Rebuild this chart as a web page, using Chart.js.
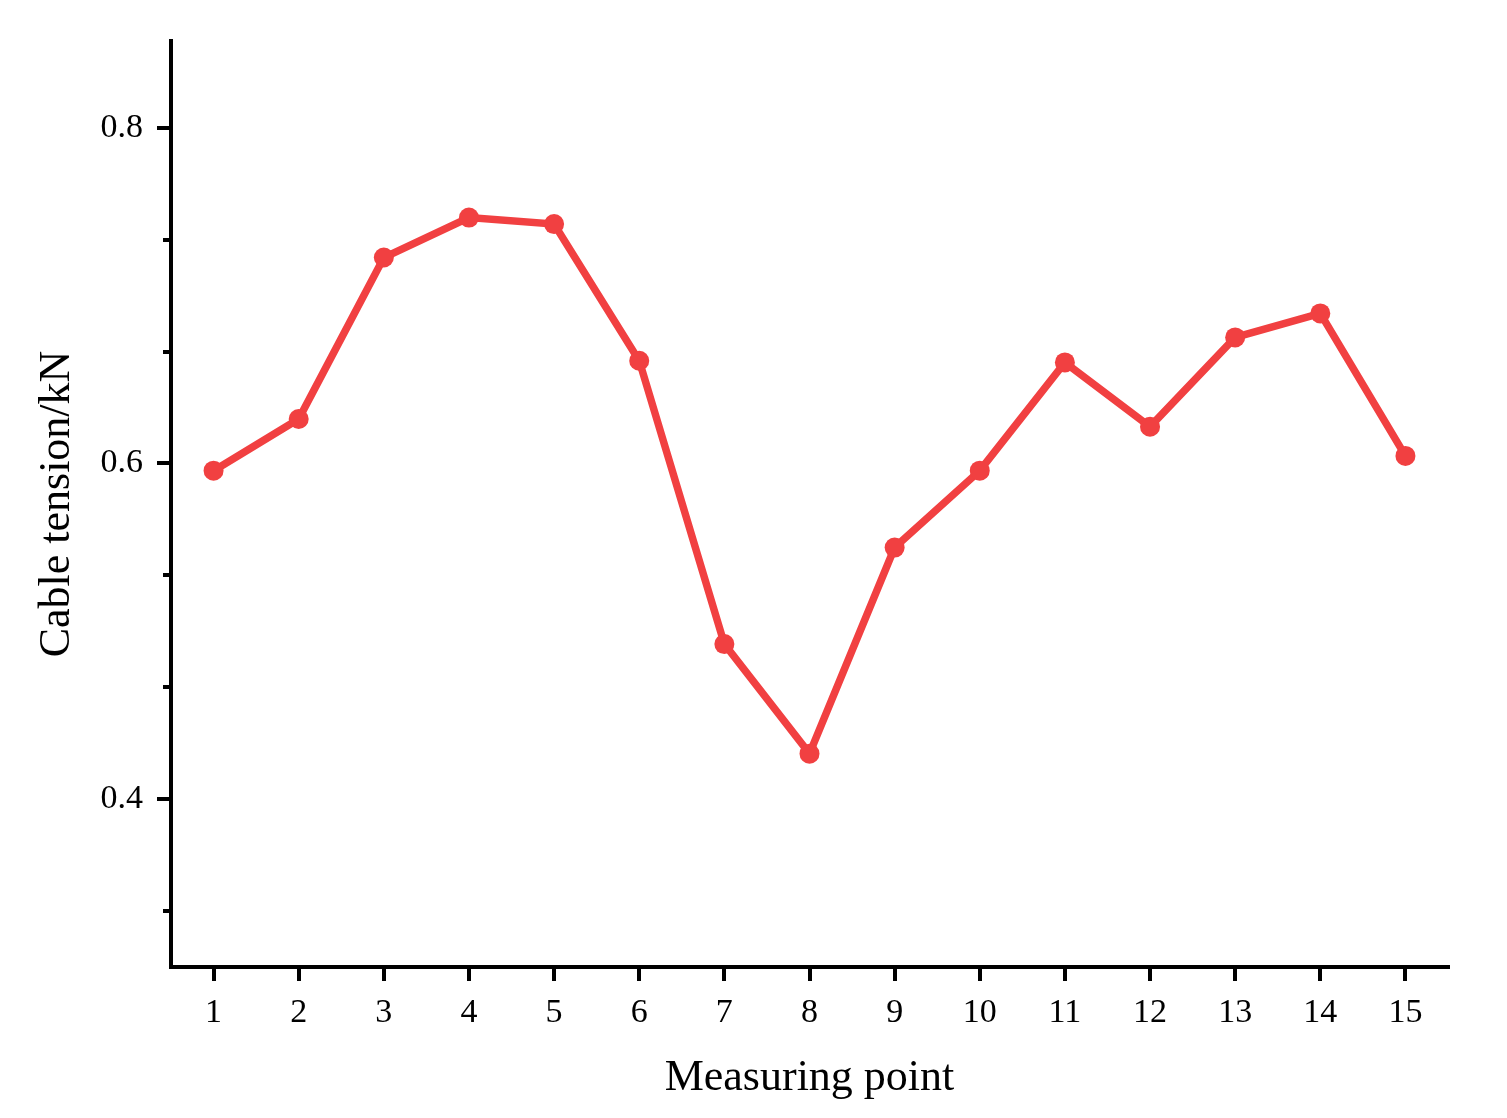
<!DOCTYPE html>
<html>
<head>
<meta charset="utf-8">
<script src="https://cdn.jsdelivr.net/npm/chart.js@4"></script>
<style>
  html, body { margin: 0; padding: 0; background: #fff; }
  #wrap { width: 1507px; height: 1118px; }
</style>
</head>
<body>
<div id="wrap"><canvas id="tensionChart" width="1507" height="1118"></canvas></div>
<script>
const points = ['1', '2', '3', '4', '5', '6', '7', '8', '9', '10', '11', '12', '13', '14', '15'];
const tension = [0.5957, 0.6265, 0.7227, 0.7465, 0.7426, 0.6612, 0.4924, 0.4271,
                 0.5499, 0.5957, 0.6602, 0.6219, 0.6751, 0.6894, 0.6045];
const yMajorTicks = [0.4, 0.6, 0.8];
const yMinorTicks = [0.3333, 0.4667, 0.5333, 0.6667, 0.7333];

const serif = '"Liberation Serif", "Times New Roman", serif';

// minor ticks on the y axis (Chart.js has no built-in minor ticks)
const minorTickPlugin = {
    id: 'minorTicks',
    afterDraw(chart) {
        const y = chart.scales.y;
        const ctx = chart.ctx;
        ctx.save();
        ctx.strokeStyle = '#000';
        ctx.lineWidth = 4;
        yMinorTicks.forEach(function (v) {
            const py = Math.round(y.getPixelForValue(v));
            ctx.beginPath();
            ctx.moveTo(y.right - 8, py);
            ctx.lineTo(y.right, py);
            ctx.stroke();
        });
        ctx.restore();
    }
};

const ctx = document.getElementById('tensionChart').getContext('2d');
new Chart(ctx, {
    type: 'line',
    data: {
        labels: points,
        datasets: [{
            label: 'Cable tension',
            data: tension,
            borderColor: '#F14041',
            backgroundColor: '#F14041',
            borderWidth: 7.5,
            pointRadius: 10,
            pointBorderWidth: 0,
            pointBackgroundColor: '#F14041',
            tension: 0
        }]
    },
    options: {
        responsive: false,
        animation: false,
        layout: { padding: { top: 41, right: 59, left: 0, bottom: 0 } },
        plugins: {
            legend: { display: false },
            tooltip: { enabled: false }
        },
        scales: {
            x: {
                type: 'category',
                offset: true,
                grid: { display: true, drawOnChartArea: false, drawTicks: true, tickLength: 14, color: '#000', lineWidth: 4 },
                border: { display: true, color: '#000', width: 4 },
                ticks: { color: '#000', font: { family: serif, size: 34 }, padding: 12, maxRotation: 0, autoSkip: false },
                title: { display: true, text: 'Measuring point', color: '#000', font: { family: serif, size: 44 }, padding: { top: 0, bottom: 13 } },
                afterFit: function (scale) { scale.height = 151; }
            },
            y: {
                min: 0.3,
                max: 0.8517,
                afterBuildTicks: function (scale) {
                    scale.ticks = yMajorTicks.map(function (v) { return { value: v }; });
                },
                grid: { display: true, drawOnChartArea: false, drawTicks: true, tickLength: 14, color: '#000', lineWidth: 4 },
                border: { display: true, color: '#000', width: 4 },
                ticks: {
                    color: '#000',
                    font: { family: serif, size: 34 },
                    padding: 14,
                    callback: function (v) { return Number(v).toFixed(1); }
                },
                title: { display: true, text: 'Cable tension/kN', color: '#000', font: { family: serif, size: 44 }, padding: { top: 31 } },
                afterFit: function (scale) { scale.width = 171; }
            }
        }
    },
    plugins: [minorTickPlugin]
});
</script>
</body>
</html>
